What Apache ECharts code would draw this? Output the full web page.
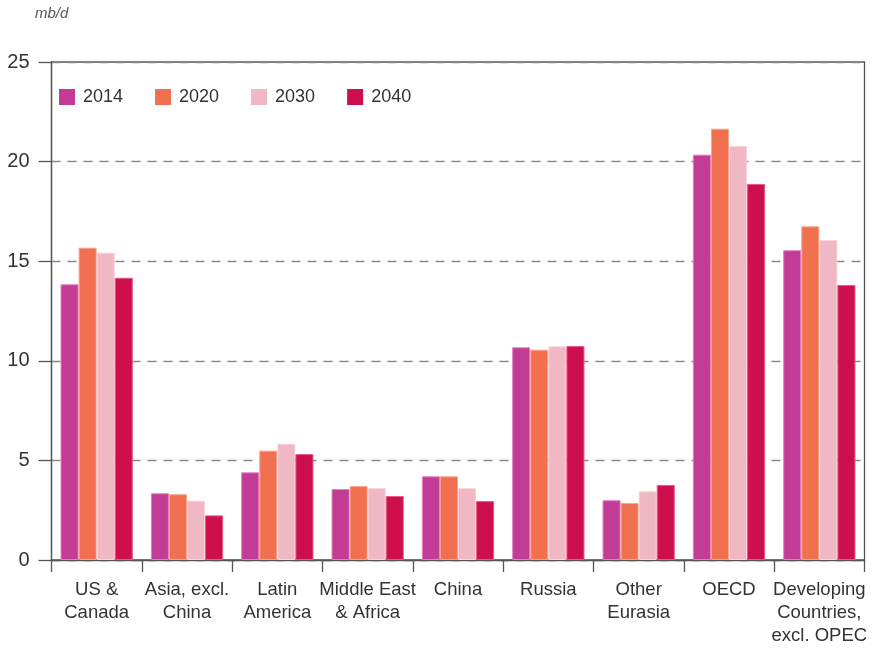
<!DOCTYPE html>
<html><head><meta charset="utf-8">
<script src="https://cdn.jsdelivr.net/npm/echarts@6/dist/echarts.min.js"></script>
<style>html,body{margin:0;padding:0;background:#fff}#c{width:877px;height:651px}</style>
</head><body><div id="c"></div>
<script>
const categories = ["US &\nCanada", "Asia, excl.\nChina", "Latin\nAmerica", "Middle East\n& Africa", "China", "Russia", "Other\nEurasia", "OECD", "Developing\nCountries,\nexcl. OPEC"];
const seriesNames = ["2014", "2020", "2030", "2040"];
const v2014 = [13.84, 3.35, 4.40, 3.56, 4.20, 10.68, 3.00, 20.35, 15.55];
const v2020 = [15.68, 3.30, 5.49, 3.71, 4.20, 10.56, 2.86, 21.65, 16.75];
const v2030 = [15.43, 2.98, 5.84, 3.61, 3.61, 10.73, 3.45, 20.78, 16.06];
const v2040 = [14.17, 2.24, 5.32, 3.21, 2.96, 10.74, 3.77, 18.88, 13.81];
const yTicks = [0, 5, 10, 15, 20, 25];
const colors = ["#C23B94", "#F07050", "#F0B8C4", "#CE0F4D"];
const borders = ["#E27FBF", "#F9A58E", "#F8D5DD", "#E85A86"];
const values = [v2014, v2020, v2030, v2040];

const chart = echarts.init(document.getElementById('c'), null, {renderer: 'canvas'});
const font = 'Liberation Sans, Arial, sans-serif';
chart.setOption({
  animation: false,
  textStyle: {fontFamily: font},
  grid: {left: 51.5, right: 12.5, top: 62, bottom: 91, show: true, borderColor: '#555', borderWidth: 1.3},
  title: {text: 'mb/d', left: 35, top: 6, padding: 0, textStyle: {fontSize: 15, fontStyle: 'italic', fontWeight: 'normal', color: '#555', fontFamily: font}},
  legend: {
    left: 59, top: 88, padding: 0, itemWidth: 16, itemHeight: 16, itemGap: 32,
    icon: 'rect',
    itemStyle: {borderWidth: 0},
    textStyle: {fontSize: 18, color: '#333', fontFamily: font, padding: [0, 0, 0, 3]},
    data: seriesNames
  },
  xAxis: {
    type: 'category', data: categories,
    axisLine: {lineStyle: {color: '#555', width: 1.3}},
    axisTick: {show: true, length: 12, lineStyle: {color: '#555', width: 1.3}},
    axisLabel: {fontSize: 18.5, color: '#333', margin: 18, lineHeight: 23, interval: 0, fontFamily: font}
  },
  yAxis: {
    type: 'value', min: 0, max: 25, interval: 5,
    axisLine: {show: true, lineStyle: {color: '#555', width: 1.3}},
    axisTick: {show: true, length: 13, lineStyle: {color: '#555', width: 1.3}},
    axisLabel: {fontSize: 20, color: '#333', margin: 22, fontFamily: font,
      formatter: v => yTicks.includes(v) ? String(v) : ''},
    splitLine: {show: true, lineStyle: {type: [9, 7], color: '#888', width: 1.3}}
  },
  series: seriesNames.map((n, i) => ({
    name: n, type: 'bar', data: values[i],
    barGap: '0%', barCategoryGap: '20%',
    itemStyle: {color: colors[i], borderColor: borders[i], borderWidth: 1}
  }))
});
</script></body></html>
